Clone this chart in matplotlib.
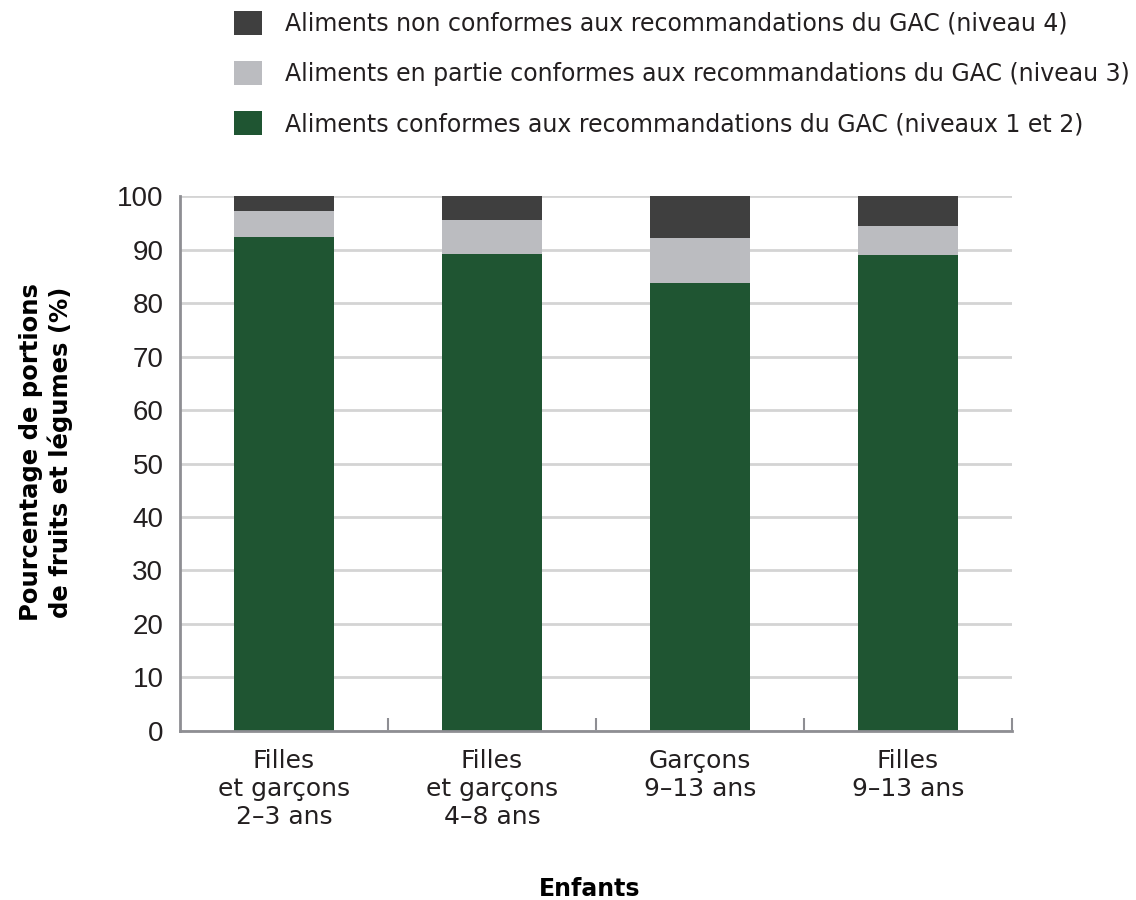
import matplotlib
matplotlib.use('Agg')
import matplotlib.pyplot as plt
import numpy as np

plt.rcParams['font.family'] = ['DejaVu Sans']
plt.rcParams['text.color'] = '#231f20'

# Groups and share (%) of fruit and vegetable servings per level
groups = ['Filles\net garçons\n2–3 ans', 'Filles\net garçons\n4–8 ans',
          'Garçons\n9–13 ans', 'Filles\n9–13 ans']
conformes = [92.3, 89.2, 83.7, 89.0]
partie = [4.9, 6.3, 8.4, 5.4]
non_conformes = [2.8, 4.5, 7.9, 5.6]

labels = ['Aliments conformes aux recommandations du GAC (niveaux 1 et 2)',
          'Aliments en partie conformes aux recommandations du GAC (niveau 3)',
          'Aliments non conformes aux recommandations du GAC (niveau 4)']
colors = ['#1f5532', '#bbbcc0', '#3f3f3f']

fig = plt.figure(figsize=(11.36, 9), dpi=100)
ax = fig.add_axes([0.1585, 0.1878, 0.7323, 0.5944])

x = np.arange(len(groups))
w = 0.48
b1 = ax.bar(x, conformes, w, color=colors[0], label=labels[0], zorder=3)
bottom = np.array(conformes)
b2 = ax.bar(x, partie, w, bottom=bottom, color=colors[1], label=labels[1], zorder=3)
bottom = bottom + np.array(partie)
b3 = ax.bar(x, non_conformes, w, bottom=bottom, color=colors[2], label=labels[2], zorder=3)

ax.set_xlim(-0.5, len(groups) - 0.5)
ax.set_ylim(0, 100)
ax.set_yticks(np.arange(0, 101, 10))
ax.tick_params(axis='y', length=0, pad=12, labelcolor='#231f20')
for t in ax.get_yticklabels():
    t.set_fontfamily('Liberation Sans')
    t.set_fontsize(20)
ax.yaxis.grid(True, color='#d4d4d4', linewidth=2, zorder=0)

# category labels centred under bars, ticks at the group boundaries
ax.set_xticks(x)
ax.set_xticklabels(groups, fontsize=18, linespacing=1.2, color='#231f20')
ax.tick_params(axis='x', which='major', length=0, pad=13)
ax.set_xticks(np.arange(0.5, len(groups), 1.0), minor=True)
ax.tick_params(axis='x', which='minor', direction='in', length=9.5, width=1.5, color='#8e8e93')

for s in ['top', 'right']:
    ax.spines[s].set_visible(False)
for s in ['left', 'bottom']:
    ax.spines[s].set_color('#8e8e93')
    ax.spines[s].set_linewidth(2)
ax.spines['bottom'].set_zorder(4)

fig.text(46 / 1136, 1 - 452 / 900, 'Pourcentage de portions\nde fruits et légumes (%)',
         fontsize=17.5, fontweight='bold', rotation=90, ha='center', va='center',
         linespacing=1.25, color='black')
fig.text(590 / 1136, 1 - 889 / 900, 'Enfants', fontsize=17, fontweight='bold',
         ha='center', va='center', color='black')

fig.legend([b3, b2, b1], [labels[2], labels[1], labels[0]],
           loc='upper left', bbox_to_anchor=(234 / 1136, 1 - 11 / 900), frameon=False,
           fontsize=17, handlelength=1.19, handleheight=1.19,
           handletextpad=0.97, labelspacing=1.06, borderpad=0, borderaxespad=0)

fig.savefig('out.png', dpi=100)
plt.close(fig)
